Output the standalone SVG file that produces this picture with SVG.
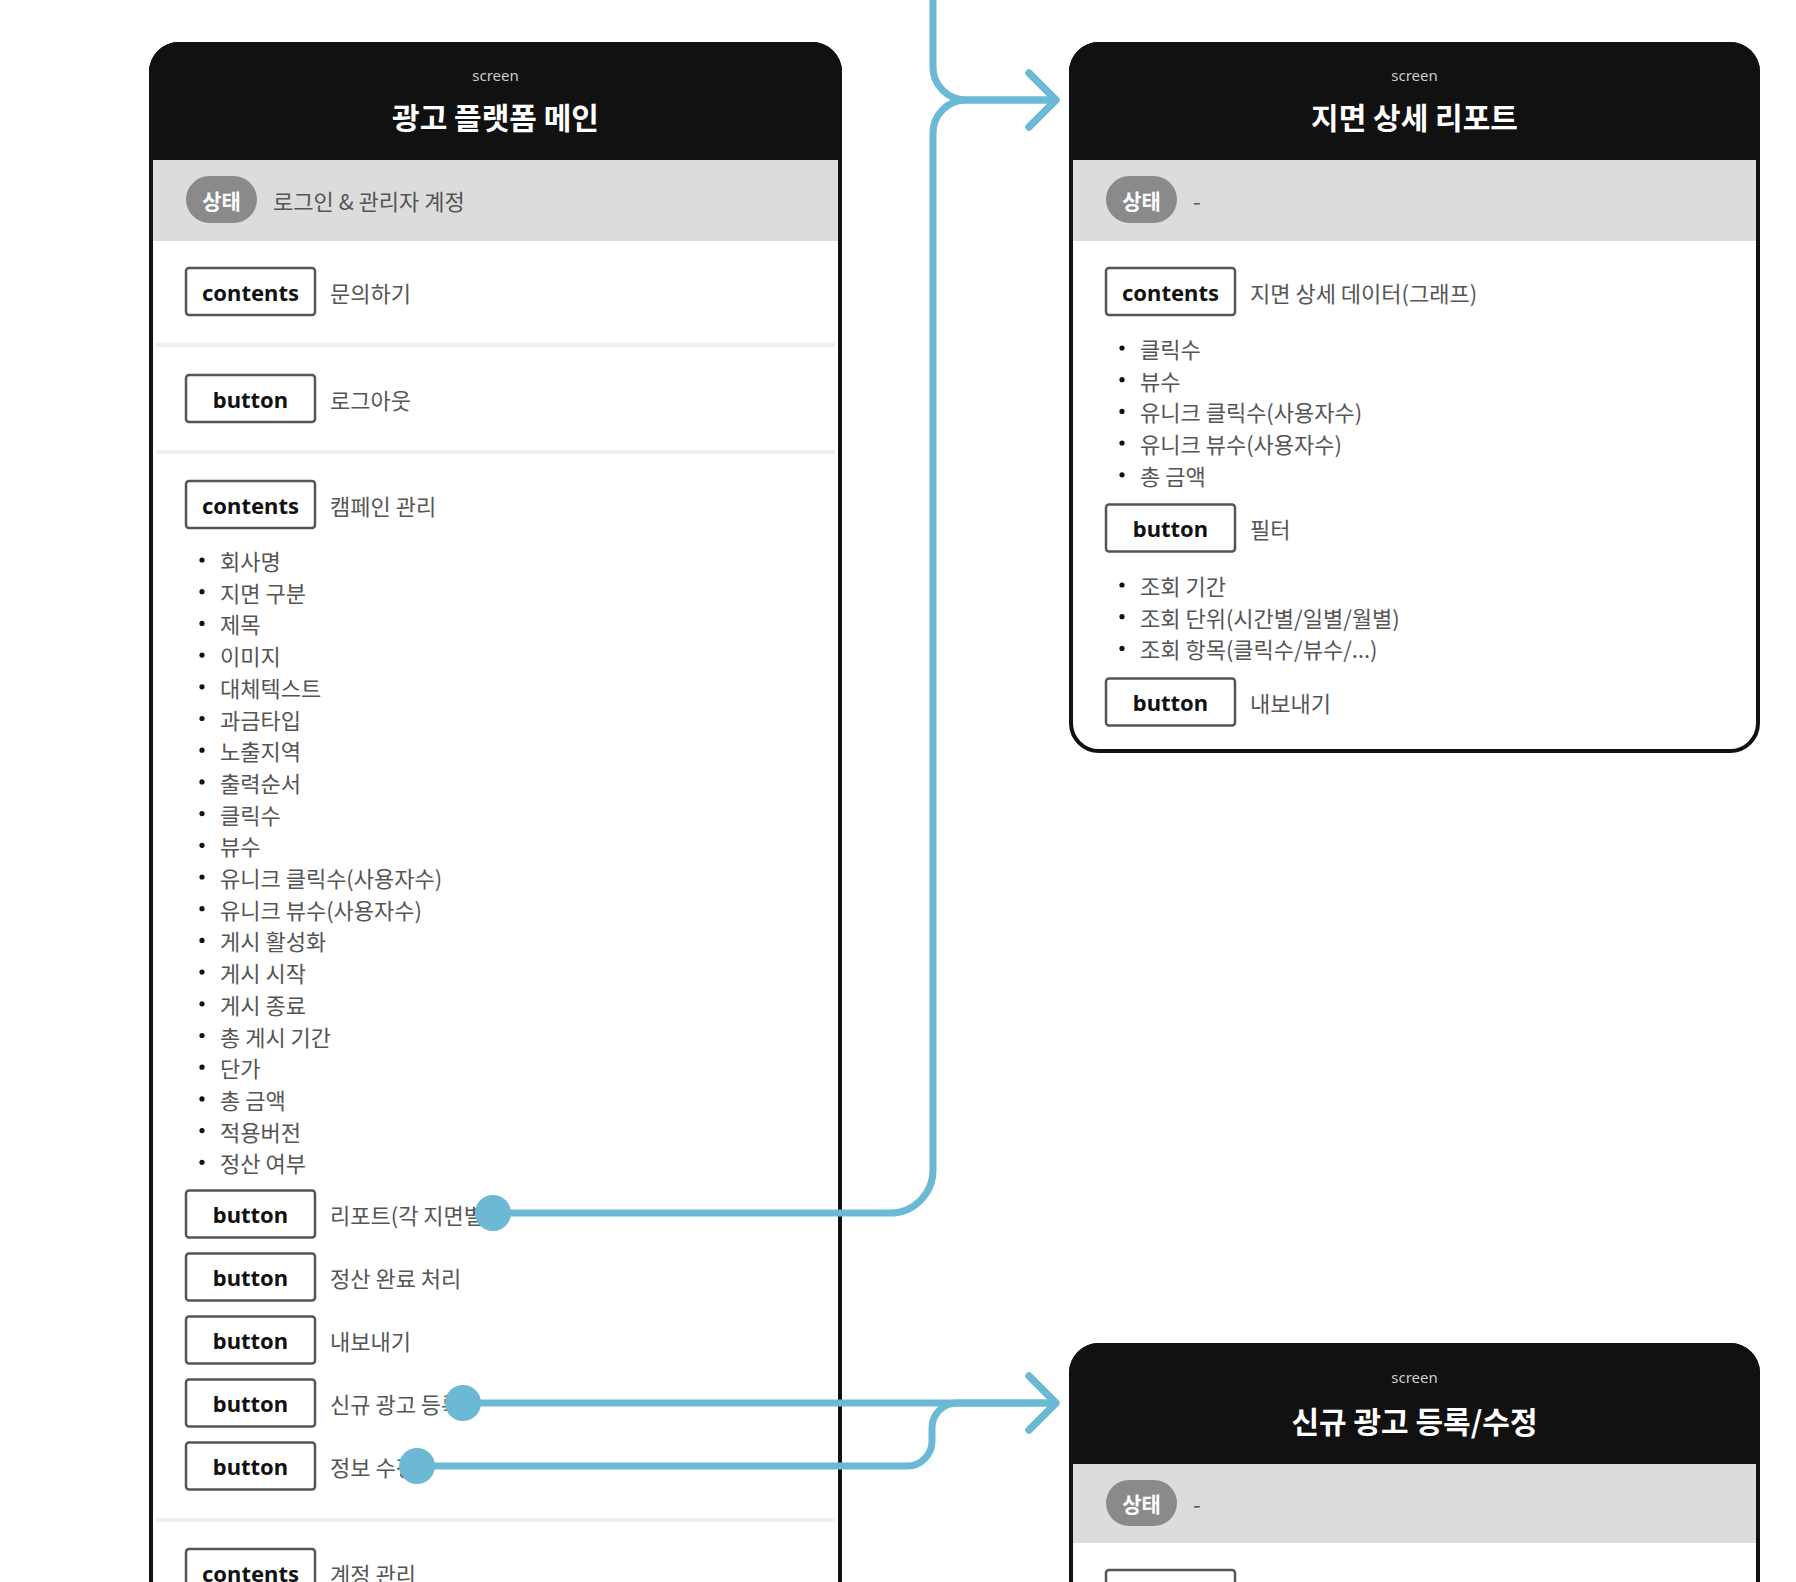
<svg xmlns="http://www.w3.org/2000/svg" width="1796" height="1582" viewBox="0 0 1796 1582">
<style>
.frame{fill:#fff;stroke:#111;stroke-width:4}
.hdr{fill:#111;stroke:#111;stroke-width:4}
.band{fill:#dcdcdc}
.sep{fill:#efefef}
.pill{fill:#8a8a8a}
.pilltx{fill:#fff;font-family:"Noto Sans CJK KR","Noto Sans",sans-serif;font-weight:700;font-size:21px;text-anchor:middle;dominant-baseline:central}
.box{fill:#fff;stroke:#555;stroke-width:2.5}
.boxtx{fill:#111;font-family:"Noto Sans","Noto Sans CJK KR",sans-serif;font-weight:700;font-size:22px;text-anchor:middle;dominant-baseline:central}
.lbl{fill:#555;font-family:"Noto Sans CJK KR","Noto Sans",sans-serif;font-size:22px;dominant-baseline:central}
.scr{fill:#ccc;font-family:"Noto Sans",sans-serif;font-size:15px;text-anchor:middle;dominant-baseline:central}
.ttl{fill:#fff;font-family:"Noto Sans CJK KR","Noto Sans",sans-serif;font-weight:700;font-size:30px;text-anchor:middle;dominant-baseline:central}
.bul{fill:#111}
.conn{fill:none;stroke:#6cb9d5;stroke-width:7}
.pin{fill:#6cb9d5}
</style>
<defs>
<marker id="arr" markerUnits="userSpaceOnUse" markerWidth="40" markerHeight="60" viewBox="0 0 40 60" refX="30" refY="30" orient="auto" overflow="visible">
<path d="M3 3 L30 30 L3 57" fill="none" stroke="#6cb9d5" stroke-width="7" stroke-linecap="round" stroke-linejoin="round"/>
</marker>
</defs>

<g id="node-main">
<rect class="frame" x="151" y="44" width="689" height="1600" rx="28"/>
<path class="hdr" d="M151 158 V72 A28 28 0 0 1 179 44 H812 A28 28 0 0 1 840 72 V158 Z"/>
<text class="scr" x="495.5" y="75">screen</text>
<text class="ttl" x="495.5" y="116">광고 플랫폼 메인</text>
<rect class="band" x="153" y="160" width="685" height="81"/>
<rect class="pill" x="186" y="176" width="71" height="47" rx="23.5"/>
<text class="pilltx" x="221.5" y="200">상태</text>
<text class="lbl" x="273" y="200">로그인 &amp; 관리자 계정</text>

<rect class="box" x="186" y="268" width="129" height="47" rx="3"/>
<text class="boxtx" x="250.5" y="291.5">contents</text>
<text class="lbl" x="330" y="291.5">문의하기</text>
<rect class="sep" x="156" y="343" width="679" height="4"/>

<rect class="box" x="186" y="375" width="129" height="47" rx="3"/>
<text class="boxtx" x="250.5" y="398.5">button</text>
<text class="lbl" x="330" y="398.5">로그아웃</text>
<rect class="sep" x="156" y="450" width="679" height="4"/>

<rect class="box" x="186" y="481" width="129" height="47" rx="3"/>
<text class="boxtx" x="250.5" y="504.5">contents</text>
<text class="lbl" x="330" y="504.5">캠페인 관리</text>

<g>
<circle class="bul" cx="202" cy="560" r="2.6"/><text class="lbl" x="220" y="560">회사명</text>
<circle class="bul" cx="202" cy="591.7" r="2.6"/><text class="lbl" x="220" y="591.7">지면 구분</text>
<circle class="bul" cx="202" cy="623.4" r="2.6"/><text class="lbl" x="220" y="623.4">제목</text>
<circle class="bul" cx="202" cy="655.1" r="2.6"/><text class="lbl" x="220" y="655.1">이미지</text>
<circle class="bul" cx="202" cy="686.8" r="2.6"/><text class="lbl" x="220" y="686.8">대체텍스트</text>
<circle class="bul" cx="202" cy="718.5" r="2.6"/><text class="lbl" x="220" y="718.5">과금타입</text>
<circle class="bul" cx="202" cy="750.2" r="2.6"/><text class="lbl" x="220" y="750.2">노출지역</text>
<circle class="bul" cx="202" cy="781.9" r="2.6"/><text class="lbl" x="220" y="781.9">출력순서</text>
<circle class="bul" cx="202" cy="813.6" r="2.6"/><text class="lbl" x="220" y="813.6">클릭수</text>
<circle class="bul" cx="202" cy="845.3" r="2.6"/><text class="lbl" x="220" y="845.3">뷰수</text>
<circle class="bul" cx="202" cy="877" r="2.6"/><text class="lbl" x="220" y="877">유니크 클릭수(사용자수)</text>
<circle class="bul" cx="202" cy="908.7" r="2.6"/><text class="lbl" x="220" y="908.7">유니크 뷰수(사용자수)</text>
<circle class="bul" cx="202" cy="940.4" r="2.6"/><text class="lbl" x="220" y="940.4">게시 활성화</text>
<circle class="bul" cx="202" cy="972.1" r="2.6"/><text class="lbl" x="220" y="972.1">게시 시작</text>
<circle class="bul" cx="202" cy="1003.8" r="2.6"/><text class="lbl" x="220" y="1003.8">게시 종료</text>
<circle class="bul" cx="202" cy="1035.5" r="2.6"/><text class="lbl" x="220" y="1035.5">총 게시 기간</text>
<circle class="bul" cx="202" cy="1067.2" r="2.6"/><text class="lbl" x="220" y="1067.2">단가</text>
<circle class="bul" cx="202" cy="1098.9" r="2.6"/><text class="lbl" x="220" y="1098.9">총 금액</text>
<circle class="bul" cx="202" cy="1130.6" r="2.6"/><text class="lbl" x="220" y="1130.6">적용버전</text>
<circle class="bul" cx="202" cy="1162.3" r="2.6"/><text class="lbl" x="220" y="1162.3">정산 여부</text>
</g>

<rect class="box" x="186" y="1190.5" width="129" height="47" rx="3"/>
<text class="boxtx" x="250.5" y="1214">button</text>
<text class="lbl" x="330" y="1214">리포트(각 지면별)</text>
<rect class="box" x="186" y="1253.5" width="129" height="47" rx="3"/>
<text class="boxtx" x="250.5" y="1277">button</text>
<text class="lbl" x="330" y="1277">정산 완료 처리</text>
<rect class="box" x="186" y="1316.5" width="129" height="47" rx="3"/>
<text class="boxtx" x="250.5" y="1340">button</text>
<text class="lbl" x="330" y="1340">내보내기</text>
<rect class="box" x="186" y="1379.5" width="129" height="47" rx="3"/>
<text class="boxtx" x="250.5" y="1403">button</text>
<text class="lbl" x="330" y="1403">신규 광고 등록</text>
<rect class="box" x="186" y="1442.5" width="129" height="47" rx="3"/>
<text class="boxtx" x="250.5" y="1466">button</text>
<text class="lbl" x="330" y="1466">정보 수정</text>
<rect class="sep" x="156" y="1518" width="679" height="4"/>

<rect class="box" x="186" y="1549" width="129" height="47" rx="3"/>
<text class="boxtx" x="250.5" y="1572.5">contents</text>
<text class="lbl" x="330" y="1572.5">계정 관리</text>
</g>

<g id="node-report">
<rect class="frame" x="1071" y="44" width="687" height="707" rx="28"/>
<path class="hdr" d="M1071 158 V72 A28 28 0 0 1 1099 44 H1730 A28 28 0 0 1 1758 72 V158 Z"/>
<text class="scr" x="1414.5" y="75">screen</text>
<text class="ttl" x="1414.5" y="116">지면 상세 리포트</text>
<rect class="band" x="1073" y="160" width="683" height="81"/>
<rect class="pill" x="1106" y="176" width="71" height="47" rx="23.5"/>
<text class="pilltx" x="1141.5" y="200">상태</text>
<text class="lbl" x="1193" y="200">-</text>

<rect class="box" x="1106" y="268" width="129" height="47" rx="3"/>
<text class="boxtx" x="1170.5" y="291.5">contents</text>
<text class="lbl" x="1250" y="291.5">지면 상세 데이터(그래프)</text>
<circle class="bul" cx="1122" cy="348" r="2.6"/><text class="lbl" x="1140" y="348">클릭수</text>
<circle class="bul" cx="1122" cy="379.7" r="2.6"/><text class="lbl" x="1140" y="379.7">뷰수</text>
<circle class="bul" cx="1122" cy="411.4" r="2.6"/><text class="lbl" x="1140" y="411.4">유니크 클릭수(사용자수)</text>
<circle class="bul" cx="1122" cy="443.1" r="2.6"/><text class="lbl" x="1140" y="443.1">유니크 뷰수(사용자수)</text>
<circle class="bul" cx="1122" cy="474.8" r="2.6"/><text class="lbl" x="1140" y="474.8">총 금액</text>

<rect class="box" x="1106" y="504.5" width="129" height="47" rx="3"/>
<text class="boxtx" x="1170.5" y="528">button</text>
<text class="lbl" x="1250" y="528">필터</text>
<circle class="bul" cx="1122" cy="585" r="2.6"/><text class="lbl" x="1140" y="585">조회 기간</text>
<circle class="bul" cx="1122" cy="616.7" r="2.6"/><text class="lbl" x="1140" y="616.7">조회 단위(시간별/일별/월별)</text>
<circle class="bul" cx="1122" cy="648.4" r="2.6"/><text class="lbl" x="1140" y="648.4">조회 항목(클릭수/뷰수/...)</text>

<rect class="box" x="1106" y="678.5" width="129" height="47" rx="3"/>
<text class="boxtx" x="1170.5" y="702">button</text>
<text class="lbl" x="1250" y="702">내보내기</text>
</g>

<g id="node-register">
<rect class="frame" x="1071" y="1345" width="687" height="400" rx="28"/>
<path class="hdr" d="M1071 1462 V1373 A28 28 0 0 1 1099 1345 H1730 A28 28 0 0 1 1758 1373 V1462 Z"/>
<text class="scr" x="1414.5" y="1377">screen</text>
<text class="ttl" x="1414.5" y="1420">신규 광고 등록/수정</text>
<rect class="band" x="1073" y="1464" width="683" height="79"/>
<rect class="pill" x="1106" y="1480" width="71" height="46" rx="23"/>
<text class="pilltx" x="1141.5" y="1503">상태</text>
<text class="lbl" x="1193" y="1503">-</text>
<rect class="box" x="1106" y="1570" width="129" height="47" rx="3"/>
</g>

<g id="connectors">
<path class="conn" d="M933 0 V67 A33 33 0 0 0 966 100 H1056" marker-end="url(#arr)"/>
<path class="conn" d="M493 1213 H890 A43 43 0 0 0 933 1170 V133 A33 33 0 0 1 966 100 H1056" marker-end="url(#arr)"/>
<path class="conn" d="M463 1403 H1056" marker-end="url(#arr)"/>
<path class="conn" d="M417 1466 H907 A25 25 0 0 0 932 1441 V1428 A25 25 0 0 1 957 1403 H1056" marker-end="url(#arr)"/>
<circle class="pin" cx="493" cy="1213" r="18"/>
<circle class="pin" cx="463" cy="1403" r="18"/>
<circle class="pin" cx="417" cy="1466" r="18"/>
</g>
</svg>
